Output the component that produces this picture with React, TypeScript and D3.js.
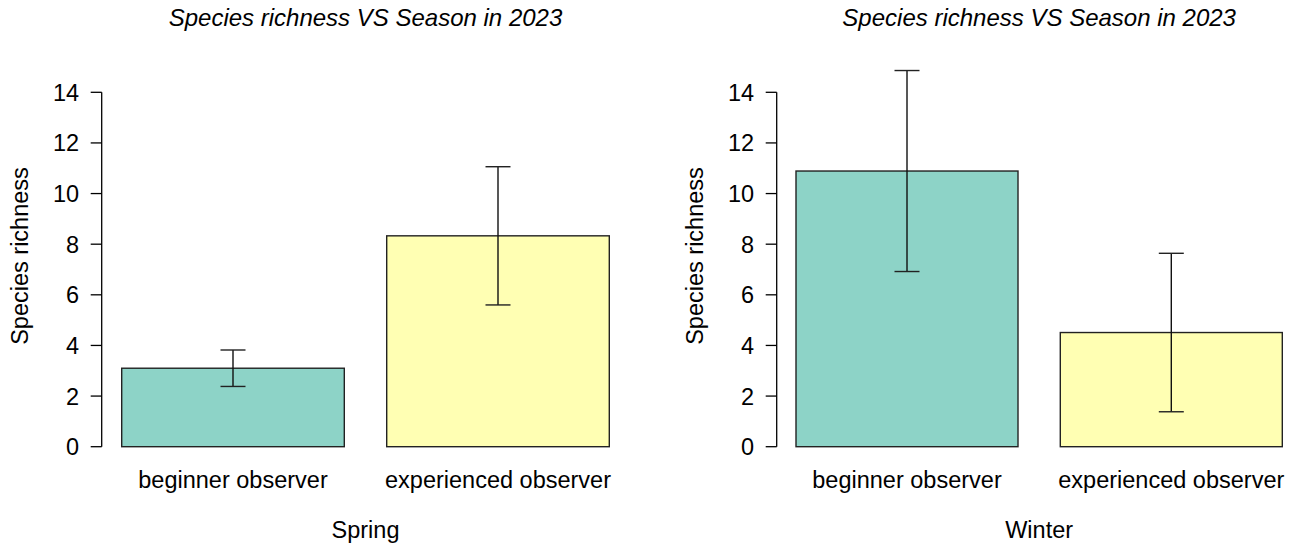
import React from "react";
import * as d3 from "d3";

const categories = ["beginner observer", "experienced observer"];
const seasons = ["Spring", "Winter"];
const springMeans = [3.1, 8.33];
const springErr = [0.72, 2.73];
const winterMeans = [10.89, 4.51];
const winterErr = [3.97, 3.13];
const yTicks = [0, 2, 4, 6, 8, 10, 12, 14];
const colors = ["#8DD3C7", "#FFFFB3"];
const title = "Species richness VS Season in 2023";
const yLabel = "Species richness";

const W = 1303;
const H = 548;
const FONT = "Liberation Sans, Arial, sans-serif";
const FS = 23.5;

const panels = [
  { season: seasons[0], means: springMeans, errs: springErr, axisX: 101.7, x0: 121.7, x1: 609.3 },
  { season: seasons[1], means: winterMeans, errs: winterErr, axisX: 776.7, x0: 796, x1: 1282.3 },
];

const y = d3.scaleLinear().domain([0, 14]).range([446.7, 92.3]);

function Panel({ p }: { p: typeof panels[number] }) {
  const x = d3.scaleBand<string>().domain(categories).range([p.x0, p.x1]).paddingInner(0.16).paddingOuter(0);
  const cx = (p.x0 + p.x1) / 2;
  return (
    <g>
      <text x={cx} y={26} textAnchor="middle" fontStyle="italic" fontSize={24} fontFamily={FONT} fill="#000">
        {title}
      </text>
      <line x1={p.axisX} x2={p.axisX} y1={y(14)} y2={y(0)} stroke="#000" strokeWidth={1.3} />
      {yTicks.map((t) => (
        <g key={t}>
          <line x1={p.axisX - 11} x2={p.axisX} y1={y(t)} y2={y(t)} stroke="#000" strokeWidth={1.3} />
          <text x={p.axisX - 22.5} y={y(t)} dy="0.36em" textAnchor="end" fontSize={FS} fontFamily={FONT} fill="#000">
            {t}
          </text>
        </g>
      ))}
      <text
        transform={`translate(${p.axisX - 73.7},256) rotate(-90)`}
        textAnchor="middle"
        fontSize={FS}
        fontFamily={FONT}
        fill="#000"
      >
        {yLabel}
      </text>
      {categories.map((c, i) => {
        const bx = x(c)!;
        const bw = x.bandwidth();
        const m = p.means[i];
        const e = p.errs[i];
        const mx = bx + bw / 2;
        return (
          <g key={c}>
            <rect x={bx} y={y(m)} width={bw} height={y(0) - y(m)} fill={colors[i]} stroke="#222" strokeWidth={1.4} />
            <line x1={mx} x2={mx} y1={y(m + e)} y2={y(m - e)} stroke="#111" strokeWidth={1.4} />
            <line x1={mx - 12.5} x2={mx + 12.5} y1={y(m + e)} y2={y(m + e)} stroke="#222" strokeWidth={1.4} />
            <line x1={mx - 12.5} x2={mx + 12.5} y1={y(m - e)} y2={y(m - e)} stroke="#222" strokeWidth={1.4} />
            <text x={mx} y={488} textAnchor="middle" fontSize={FS} fontFamily={FONT} fill="#000">
              {c}
            </text>
          </g>
        );
      })}
      <text x={cx} y={538} textAnchor="middle" fontSize={FS} fontFamily={FONT} fill="#000">
        {p.season}
      </text>
    </g>
  );
}

export default function App() {
  return (
    <svg width={W} height={H} style={{ position: "absolute", left: 0, top: 0, background: "#fff" }}>
      <rect width={W} height={H} fill="#fff" />
      {panels.map((p) => (
        <Panel key={p.season} p={p} />
      ))}
    </svg>
  );
}
